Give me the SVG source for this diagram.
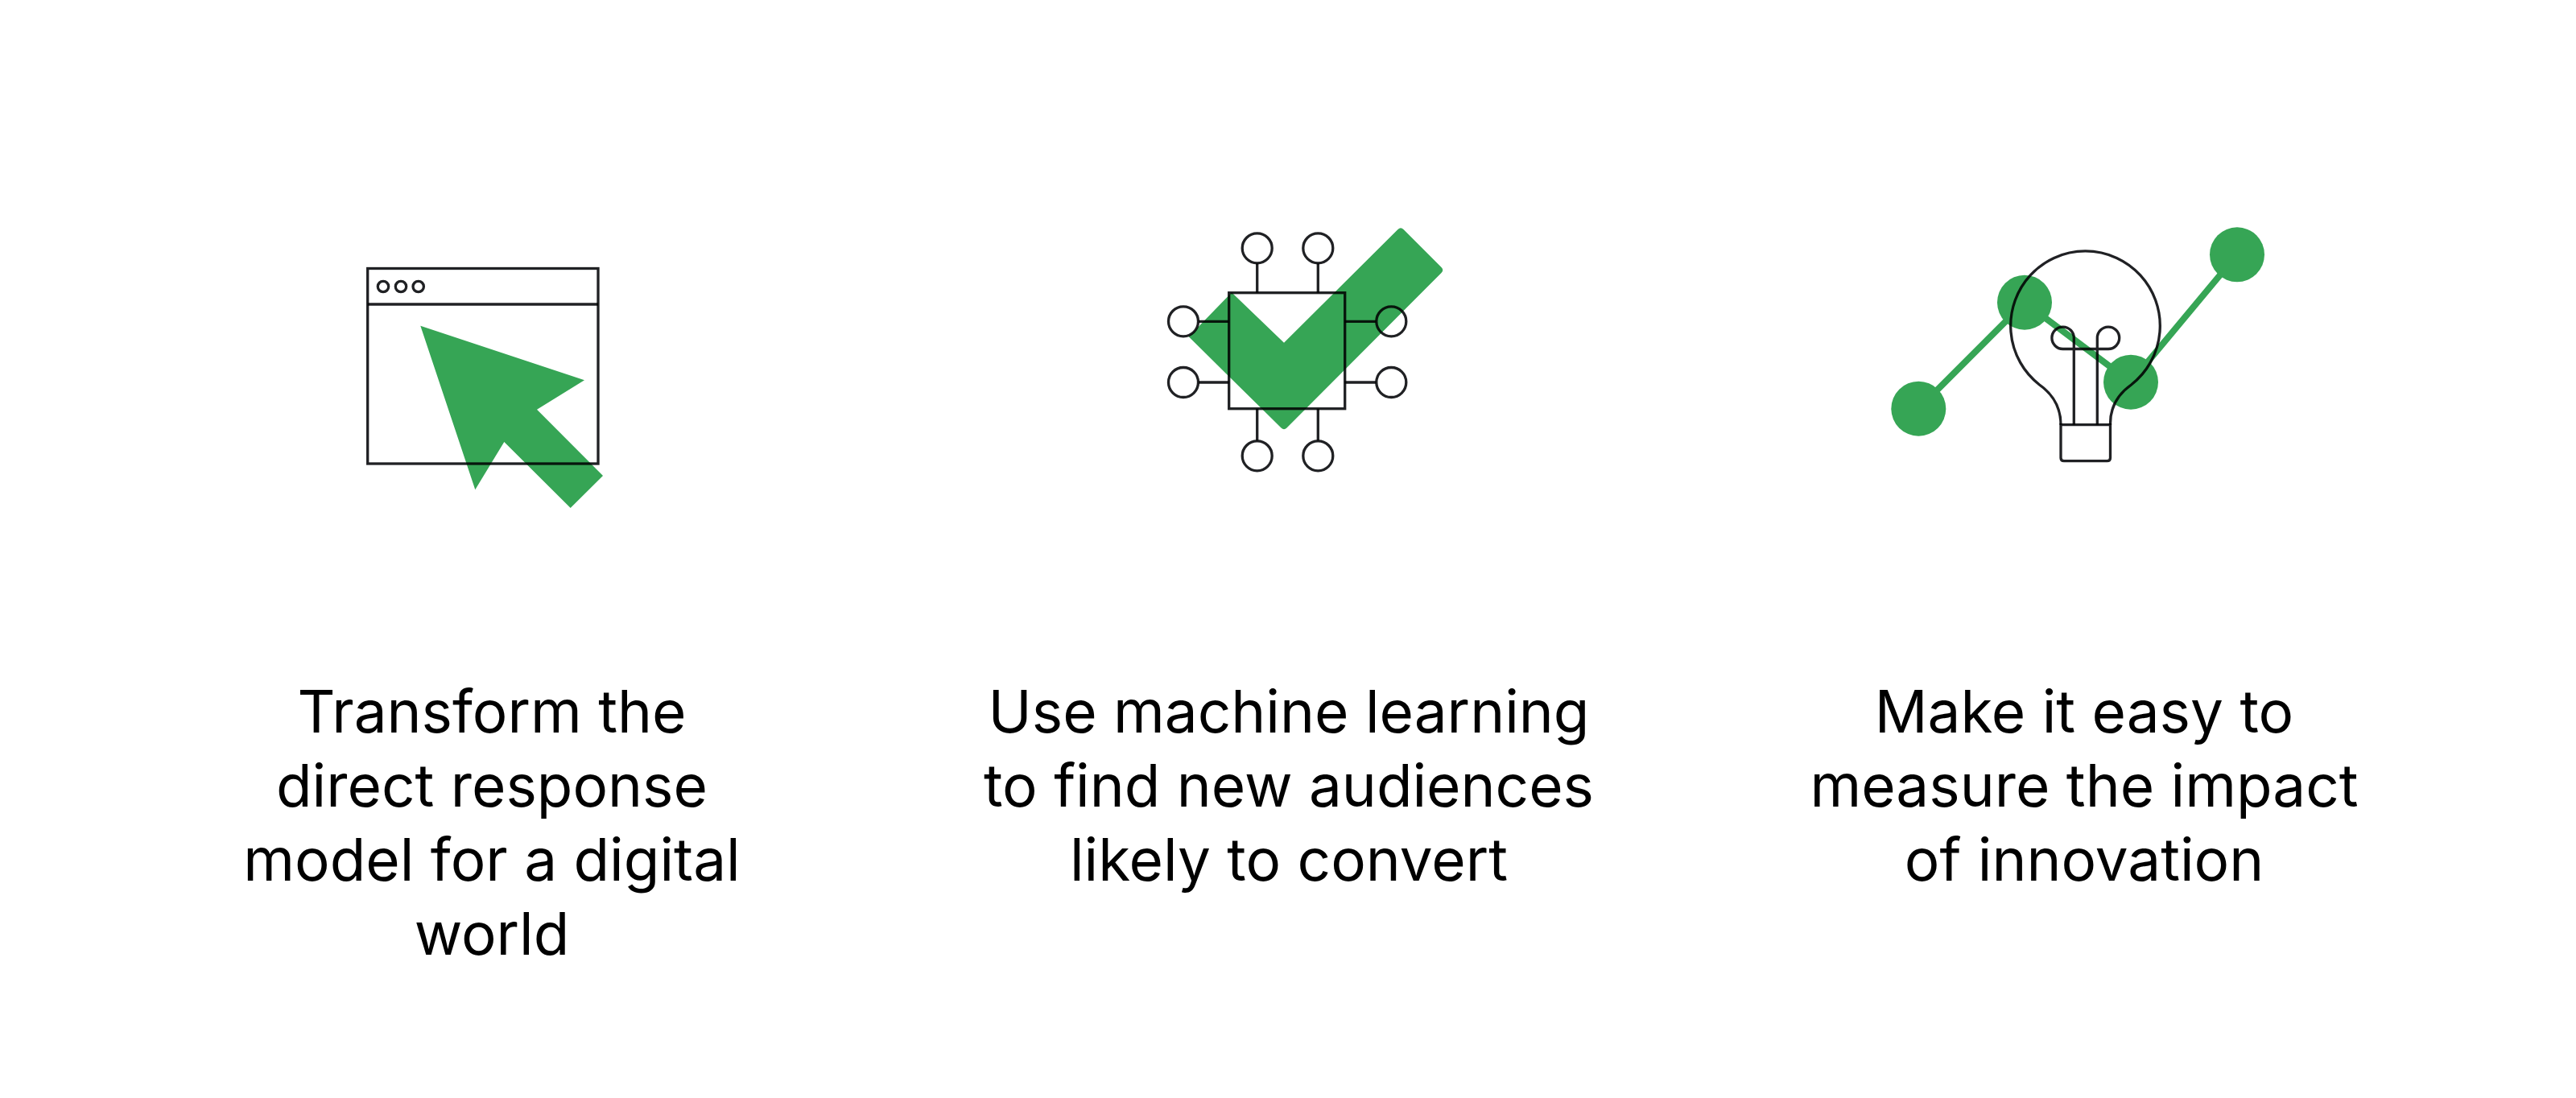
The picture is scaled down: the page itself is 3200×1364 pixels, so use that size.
<svg xmlns="http://www.w3.org/2000/svg" width="3200" height="1364" viewBox="0 0 3200 1364">
<style>
.g{fill:#36a555}
.l{fill:none;stroke:#202124;stroke-width:3.3;mix-blend-mode:multiply}
.t{font-family:"Inter","Liberation Sans",sans-serif;font-size:72.8px;fill:#000;text-anchor:middle}
</style>
<rect width="3200" height="1364" fill="#fff"/>
<g id="browser-icon">
<polygon class="g" points="522.3,404.7 726,472.3 667,508.7 749,591 708.7,631 626.3,549 590.3,608.3"/>
<rect class="l" x="456.7" y="333.5" width="286.3" height="242.5"/>
<path class="l" d="M456.7 378H743"/>
<circle class="l" cx="476" cy="356" r="6.7"/><circle class="l" cx="498" cy="356" r="6.7"/><circle class="l" cx="519.7" cy="356" r="6.7"/>
</g>
<g id="chip-icon">
<path class="g" d="M1530 363.3L1595 425.7L1736.5 285Q1740 281.5 1743.5 285L1790.5 332Q1794 335.5 1790.5 339L1598.5 531.5Q1595 535 1591.5 531.5L1476.7 418.3Z"/>
<circle cx="1470" cy="399.3" r="18.5" fill="#fff"/>
<rect class="l" x="1526.7" y="363.7" width="144" height="144"/>
<path class="l" d="M1561.7 327.3V363.7M1637.3 327.3V363.7M1489 399.3H1526.7M1489 475H1526.7M1670.7 399.3H1709.3M1670.7 475H1709.3M1561.7 507.7V547.3M1637.3 507.7V547.3"/>
<circle class="l" cx="1561.7" cy="308.3" r="18.5"/><circle class="l" cx="1637.3" cy="308.3" r="18.5"/>
<circle class="l" cx="1470" cy="399.3" r="18.5"/><circle class="l" cx="1470" cy="475" r="18.5"/>
<circle class="l" cx="1728.3" cy="399.3" r="18.5"/><circle class="l" cx="1728.3" cy="475" r="18.5"/>
<circle class="l" cx="1561.7" cy="566.3" r="18.5"/><circle class="l" cx="1637.3" cy="566.3" r="18.5"/>
</g>
<g id="bulb-icon">
<polyline points="2383.3,507.7 2515,375.7 2647,474.7 2779,316.3" fill="none" stroke="#36a555" stroke-width="8"/>
<circle class="g" cx="2383.3" cy="507.7" r="34"/><circle class="g" cx="2515" cy="375.7" r="34"/><circle class="g" cx="2647" cy="474.7" r="34"/><circle class="g" cx="2779" cy="316.3" r="34"/>
<path class="l" d="M2560 527.7C2560 505 2549 489 2533.5 478A92.8 92.8 0 1 1 2647.5 478C2632 489 2621 505 2621.5 527.7"/>
<path class="l" d="M2560 527.7H2621.5V568.7Q2621.5 572.7 2617.5 572.7H2564Q2560 572.7 2560 568.7Z"/>
<path class="l" d="M2576.3 527.7V420A13.7 13.7 0 1 0 2562.6 433.5H2619A13.7 13.7 0 1 0 2605.3 420V527.7"/>
</g>
<g id="label-1">
<text class="t" x="611" y="910">Transform the</text>
<text class="t" x="611" y="1002">direct response</text>
<text class="t" x="611" y="1094">model for a digital</text>
<text class="t" x="611" y="1186">world</text>
</g>
<g id="label-2">
<text class="t" x="1601" y="910">Use machine learning</text>
<text class="t" x="1601" y="1002">to find new audiences</text>
<text class="t" x="1601" y="1094">likely to convert</text>
</g>
<g id="label-3">
<text class="t" x="2589" y="910">Make it easy to</text>
<text class="t" x="2589" y="1002">measure the impact</text>
<text class="t" x="2589" y="1094">of innovation</text>
</g>
</svg>
